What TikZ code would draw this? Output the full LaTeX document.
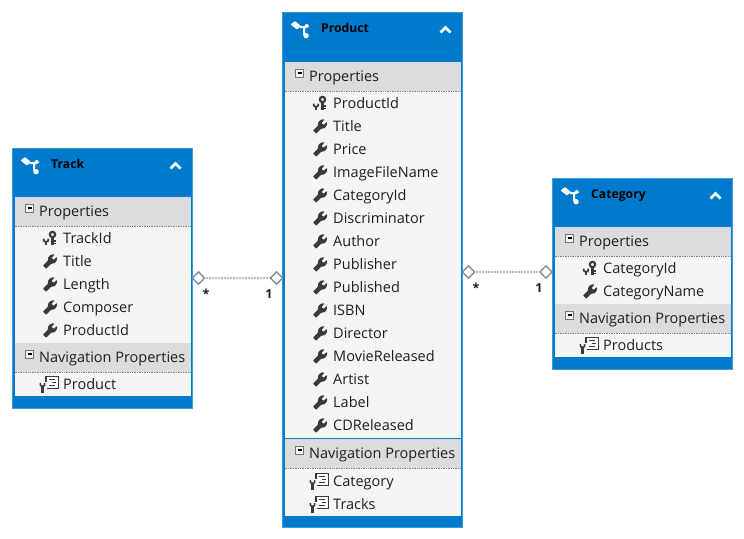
\documentclass[tikz,border=0pt]{standalone}
\usepackage{fontspec}
\setmainfont{Open Sans}
\usetikzlibrary{shapes.geometric}
\definecolor{hdrblue}{HTML}{007ACC}
\definecolor{edgeblue}{HTML}{3D9BD9}
\definecolor{panel}{HTML}{F5F5F5}
\definecolor{grphead}{HTML}{DCDCDC}
\definecolor{inktext}{HTML}{1E1E1E}
\definecolor{iconink}{HTML}{3A3A3A}
\definecolor{linkgray}{HTML}{7F8FA3}
\definecolor{linklight}{HTML}{B4BBC6}
\tikzset{
  x=1pt,y=-1pt,
  entity/.style={draw=edgeblue,line width=1pt,fill=hdrblue,inner sep=0pt,outer sep=0pt,anchor=north west},
  panelbox/.style={fill=panel,draw=none},
  grpbox/.style={fill=grphead,draw=none},
  title/.style={font=\fontsize{12.2}{14}\selectfont\bfseries,text=black,anchor=base west,inner sep=0pt},
  grouplabel/.style={font=\fontsize{14.5}{16}\selectfont,text=inktext,anchor=base west,inner sep=0pt},
  itemlabel/.style={font=\fontsize{14.5}{16}\selectfont,text=inktext,anchor=base west,inner sep=0pt},
  mult/.style={font=\fontsize{12.5}{14}\selectfont\bfseries,text=inktext,inner sep=0pt},
  endmark/.style={diamond,draw=linkgray,line width=1.4pt,fill=white,minimum width=13pt,minimum height=13pt,inner sep=0pt},
  assoc/.style={draw=linklight,line width=1.3pt,dash pattern=on 2pt off 1pt},
  pics/wrench/.style={code={
    \fill[iconink,rounded corners=0.6pt] (-7,4) -- (-2,-1) .. controls (-2.4,-4.5) and (0.5,-7.8) .. (4.6,-7)
      -- (1.5,-3.6) -- (3.5,-1.6) -- (7,-4.6) .. controls (7.6,-0.6) and (4.8,2.6) .. (1.5,2) -- (-3.8,7.2) -- cycle;
  }},
  pics/pkey/.style={code={
    \draw[iconink,line width=2.1pt] (2.5,-4) circle (2.7);
    \draw[iconink,line width=2.3pt] (2.5,-1) -- (2.5,6.2);
    \draw[iconink,line width=1.6pt] (2.5,2.4) -- (5.6,2.4) (2.5,5) -- (5.6,5);
    \draw[iconink,line width=1.7pt] (-6.2,0.2) -- (-6.2,2) .. controls (-6.2,3.6) and (-1.8,3.6) .. (-1.8,2) -- (-1.8,0.2);
    \draw[iconink,line width=2.1pt] (-4,3) -- (-4,6.6);
  }},
  pics/navprop/.style={code={
    \draw[iconink,line width=1.1pt,fill=white] (-4,-8) rectangle (8.5,4);
    \draw[iconink,line width=1.1pt] (-1,-5) -- (5,-5) (1.5,-2) -- (5.5,-2) (-1,1) -- (5,1);
    \fill[panel] (-10.5,-2.5) rectangle (-3.4,8.5);
    \draw[iconink,line width=1.6pt] (-9.6,-1.5) -- (-9.6,0.4) .. controls (-9.6,2.2) and (-5.4,2.2) .. (-5.4,0.4) -- (-5.4,-1.5);
    \draw[iconink,line width=2.2pt] (-7.5,1) -- (-7.5,8);
  }},
  pics/classglyph/.style={code={
    \fill[white,rounded corners=0.8pt] (-11,-6) -- (-6.5,-9.5) -- (-0.5,-4.5) -- (-4.5,-1) -- cycle;
    \draw[white,line width=2pt] (-1.5,-3.5) -- (5,-3.5) (2.5,-3) -- (2.5,3.5) -- (5,6);
    \fill[white] (5.5,-2.5) -- (3,-5) -- (5.5,-6.8) -- (7.6,-4.2) -- cycle;
    \fill[white] (4.6,5.2) circle (2.7);
  }},
  pics/chevron/.style={code={
    \draw[white,line width=2.6pt] (-5,3) -- (0,-2) -- (5,3);
  }},
  pics/minusbox/.style={code={
    \draw[iconink!70,fill=panel,line width=0.8pt] (-4,-4) rectangle (4,4);
    \draw[black,line width=1.2pt] (-2,0) -- (2,0);
  }},
}
% \entitybox{name}{left}{top}{bottom}{title}
\newcommand{\entitybox}[5]{
  \path[entity] (#2,#3) rectangle (#2+180,#4);
  \node[entity,draw=none,fill=none,minimum width=180pt,minimum height=#4pt-#3pt] (#1) at (#2,#3) {};
  \pic at (#2+19,#3+18) {classglyph};
  \node[title] (#1-title) at (#2+38.5,#3+20) {#5};
  \pic at (#2+163,#3+17) {chevron};
}
% \groupsection{name}{left}{top of header}{y of panel bottom}{label}
\newcommand{\groupsection}[5]{
  \fill[panelbox] (#2+2,#3) rectangle (#2+178.5,#4);
  \fill[grpbox] (#2+2,#3) rectangle (#2+178.5,#3+29);
  \draw[gray,line width=0.7pt,densely dotted] (#2+2,#3+29.5) -- (#2+178.5,#3+29.5);
  \pic at (#2+17,#3+11) {minusbox};
  \node[grouplabel] (#1) at (#2+26.5,#3+19) {#5};
}
% \member{name}{left}{y}{icon}{label}
\newcommand{\member}[5]{
  \pic at (#2+37.5,#3+0.5) {#4};
  \node[itemlabel] (#1) at (#2+50.5,#3+5) {#5};
}
\begin{document}
\begin{tikzpicture}
\useasboundingbox[fill=white] (0,0) rectangle (744,538);

% Track
\entitybox{track}{12.5}{148.5}{408}{Track}
\groupsection{trackprops}{12.5}{197}{343}{Properties}
\member{track1}{12.5}{238}{pkey}{TrackId}
\member{track2}{12.5}{261}{wrench}{Title}
\member{track3}{12.5}{284}{wrench}{Length}
\member{track4}{12.5}{307}{wrench}{Composer}
\member{track5}{12.5}{330}{wrench}{ProductId}
\groupsection{tracknav}{12.5}{343}{396}{Navigation Properties}
\member{track6}{12.5}{384}{navprop}{Product}

% Product
\entitybox{product}{282.5}{12.5}{527}{Product}
\groupsection{productprops}{282.5}{62}{438}{Properties}
\member{prod1}{282.5}{103}{pkey}{ProductId}
\member{prod2}{282.5}{126}{wrench}{Title}
\member{prod3}{282.5}{149}{wrench}{Price}
\member{prod4}{282.5}{172}{wrench}{ImageFileName}
\member{prod5}{282.5}{195}{wrench}{CategoryId}
\member{prod6}{282.5}{218}{wrench}{Discriminator}
\member{prod7}{282.5}{241}{wrench}{Author}
\member{prod8}{282.5}{264}{wrench}{Publisher}
\member{prod9}{282.5}{287}{wrench}{Published}
\member{prod10}{282.5}{310}{wrench}{ISBN}
\member{prod11}{282.5}{333}{wrench}{Director}
\member{prod12}{282.5}{356}{wrench}{MovieReleased}
\member{prod13}{282.5}{379}{wrench}{Artist}
\member{prod14}{282.5}{402}{wrench}{Label}
\member{prod15}{282.5}{425}{wrench}{CDReleased}
\groupsection{productnav}{282.5}{439}{516}{Navigation Properties}
\member{prod16}{282.5}{481}{navprop}{Category}
\member{prod17}{282.5}{504}{navprop}{Tracks}

% Category
\entitybox{category}{552.5}{178.5}{369}{Category}
\groupsection{catprops}{552.5}{227}{304}{Properties}
\member{cat1}{552.5}{268}{pkey}{CategoryId}
\member{cat2}{552.5}{291}{wrench}{CategoryName}
\groupsection{catnav}{552.5}{304}{357}{Navigation Properties}
\member{cat3}{552.5}{345}{navprop}{Products}

% Associations
\node[endmark] (tp) at (198.5,278) {};
\node[endmark] (pt) at (276.5,278) {};
\node[endmark] (pc) at (468.5,272) {};
\node[endmark] (cp) at (546,272) {};
\draw[assoc] (tp) -- (pt);
\draw[assoc] (pc) -- (cp);
\node[mult] (m1) at (206,293.5) {*};
\node[mult] (m2) at (269,294) {1};
\node[mult] (m3) at (476,287.5) {*};
\node[mult] (m4) at (539,288) {1};
\end{tikzpicture}
\end{document}
